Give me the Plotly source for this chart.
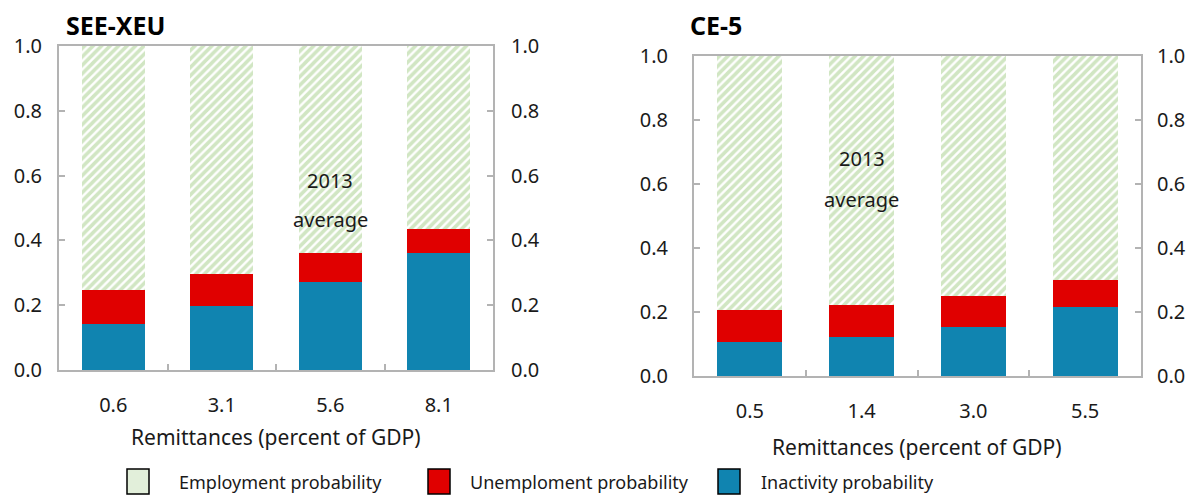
import plotly.graph_objects as go

# ---------------- data ----------------
see_cats = ["0.6", "3.1", "5.6", "8.1"]
see_inactivity = [0.142, 0.198, 0.273, 0.362]
see_unemployment = [0.104, 0.099, 0.089, 0.074]
see_employment = [round(1 - a - b, 3) for a, b in zip(see_inactivity, see_unemployment)]

ce_cats = ["0.5", "1.4", "3.0", "5.5"]
ce_inactivity = [0.106, 0.122, 0.154, 0.216]
ce_unemployment = [0.099, 0.099, 0.095, 0.084]
ce_employment = [round(1 - a - b, 3) for a, b in zip(ce_inactivity, ce_unemployment)]

series_names = ["Employment probability", "Unemploment probability", "Inactivity probability"]
panel_titles = ["SEE-XEU", "CE-5"]
y_ticks = [0.0, 0.2, 0.4, 0.6, 0.8, 1.0]
y_ticktext = ["0.0", "0.2", "0.4", "0.6", "0.8", "1.0"]
x_title = "Remittances (percent of GDP)"
note_lines = ["2013", "average"]

# ---------------- style ----------------
OFF = 8                      # default page margin around the plot div
W, H = 1194 - OFF, 498 - OFF
FONT = "Noto Sans"
BLUE = "#1084b0"
RED = "#e00000"
GREEN_FG = "#a3cd87"
GREEN_LEG = "#e2efda"
AXC = "#b3b3b3"
TXT = "#1a1a1a"


def px_x(p):
    return (p - OFF) / W


def px_y(p):
    return 1 - (p - OFF) / H


fig = go.Figure()

panels = [
    ("x", "y", "y3", see_cats, see_inactivity, see_unemployment, see_employment),
    ("x2", "y2", "y4", ce_cats, ce_inactivity, ce_unemployment, ce_employment),
]
for xa, ya, ya_r, cats, inact, unemp, emp in panels:
    fig.add_trace(go.Bar(x=cats, y=inact, xaxis=xa, yaxis=ya, marker=dict(color=BLUE, line=dict(width=0)),
                         showlegend=False, name=series_names[2]))
    fig.add_trace(go.Bar(x=cats, y=unemp, xaxis=xa, yaxis=ya, marker=dict(color=RED, line=dict(width=0)),
                         showlegend=False, name=series_names[1]))
    fig.add_trace(go.Bar(x=cats, y=emp, xaxis=xa, yaxis=ya,
                         marker=dict(color="white", line=dict(width=0),
                                     pattern=dict(shape="/", fgcolor=GREEN_FG, bgcolor="white",
                                                  size=6, solidity=0.6)),
                         showlegend=False, name=series_names[0]))
    # carrier trace for the right-hand axis
    fig.add_trace(go.Scatter(x=cats, y=[None] * len(cats), xaxis=xa, yaxis=ya_r, mode="markers",
                             showlegend=False, hoverinfo="skip"))

# domains (pixel based, reference coordinates)
left_x = [px_x(59), px_x(493)]
right_x = [px_x(694), px_x(1141)]
left_y = [px_y(370), px_y(46)]
right_y = [px_y(376), px_y(56)]

tickfont = dict(family=FONT, size=20, color=TXT)

xcommon = dict(type="category", range=[-0.5, 3.5], showline=True, linecolor=AXC, linewidth=2, mirror=True,
               ticks="inside", ticklen=6, tickcolor=AXC, tickwidth=1.5, tickson="boundaries",
               tickfont=tickfont, ticklabelstandoff=16, showgrid=False, zeroline=False, fixedrange=True)
ycommon = dict(range=[0, 1], tickvals=y_ticks, ticktext=y_ticktext, showline=True, linecolor=AXC,
               linewidth=2, ticks="inside", ticklen=6, tickcolor=AXC, tickwidth=1.5,
               tickfont=tickfont, showgrid=False, zeroline=False)

fig.update_layout(
    width=W, height=H, autosize=False,
    margin=dict(l=0, r=0, t=0, b=0, autoexpand=False),
    paper_bgcolor="white", plot_bgcolor="white",
    barmode="stack", bargap=0.42,
    font=dict(family=FONT, color=TXT),
    xaxis=dict(domain=left_x, anchor="y", **xcommon),
    xaxis2=dict(domain=right_x, anchor="y2", **xcommon),
    yaxis=dict(domain=left_y, anchor="x", side="left", ticklabelstandoff=11, **ycommon),
    yaxis2=dict(domain=right_y, anchor="x2", side="left", ticklabelstandoff=20, **ycommon),
    yaxis3=dict(overlaying="y", anchor="x", side="right", ticklabelstandoff=12, **ycommon),
    yaxis4=dict(overlaying="y2", anchor="x2", side="right", ticklabelstandoff=10, **ycommon),
    showlegend=False,
)

annotations = [
    dict(text="<b>" + panel_titles[0] + "</b>", x=px_x(64), y=px_y(25), xref="paper", yref="paper",
         xanchor="left", yanchor="middle", showarrow=False, font=dict(family=FONT, size=25, color="black")),
    dict(text="<b>" + panel_titles[1] + "</b>", x=px_x(688), y=px_y(25), xref="paper", yref="paper",
         xanchor="left", yanchor="middle", showarrow=False, font=dict(family=FONT, size=25, color="black")),
    dict(text=x_title, x=(left_x[0] + left_x[1]) / 2, y=px_y(437), xref="paper", yref="paper",
         xanchor="center", yanchor="middle", showarrow=False, font=dict(family=FONT, size=21, color=TXT)),
    dict(text=x_title, x=(right_x[0] + right_x[1]) / 2, y=px_y(447), xref="paper", yref="paper",
         xanchor="center", yanchor="middle", showarrow=False, font=dict(family=FONT, size=21, color=TXT)),
    dict(text=note_lines[0], x=2, y=0.586, xref="x", yref="y", showarrow=False,
         font=dict(family=FONT, size=20, color=TXT)),
    dict(text=note_lines[1], x=2, y=0.463, xref="x", yref="y", showarrow=False,
         font=dict(family=FONT, size=20, color=TXT)),
    dict(text=note_lines[0], x=1, y=0.681, xref="x2", yref="y2", showarrow=False,
         font=dict(family=FONT, size=20, color=TXT)),
    dict(text=note_lines[1], x=1, y=0.553, xref="x2", yref="y2", showarrow=False,
         font=dict(family=FONT, size=20, color=TXT)),
]

# manual legend (large boxes, as in the reference)
leg_colors = [GREEN_LEG, RED, BLUE]
leg_box_x = [127, 428, 718]
leg_text_x = [177, 468, 759]
shapes = []
for name, col, bx, tx in zip(series_names, leg_colors, leg_box_x, leg_text_x):
    shapes.append(dict(type="rect", xref="paper", yref="paper",
                       x0=px_x(bx), x1=px_x(bx + 22), y0=px_y(494), y1=px_y(469),
                       fillcolor=col, line=dict(color="black", width=1.5)))
    annotations.append(dict(text=name, x=px_x(tx), y=px_y(482), xref="paper", yref="paper",
                            xanchor="left", yanchor="middle", showarrow=False,
                            font=dict(family=FONT, size=18, color=TXT)))

fig.update_layout(annotations=annotations, shapes=shapes)

fig.write_html("out.html")
